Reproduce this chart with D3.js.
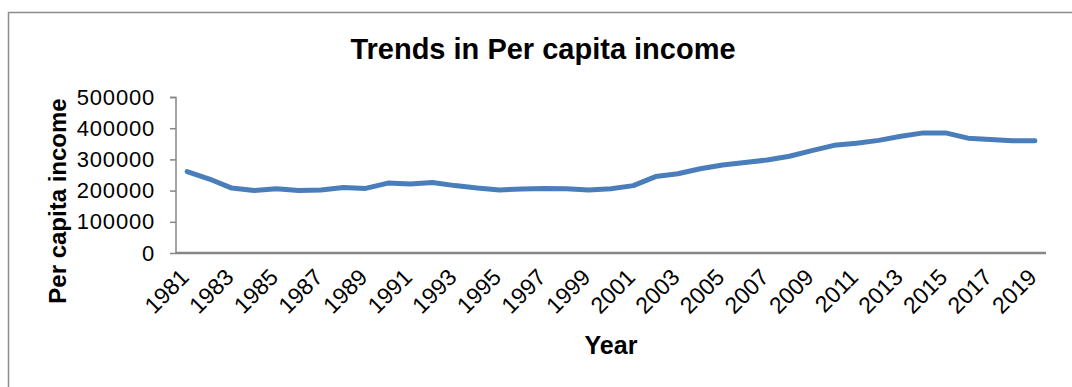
<!DOCTYPE html>
<html>
<head>
<meta charset="utf-8">
<script src="https://cdn.jsdelivr.net/npm/d3@7"></script>
<style>
  body { margin: 0; background: #fff; }
  text { font-family: "Liberation Sans", Arial, sans-serif; fill: #000; }
</style>
</head>
<body>
<div id="chart"></div>
<script>
// data
const years = [1981, 1982, 1983, 1984, 1985, 1986, 1987, 1988, 1989, 1990,
  1991, 1992, 1993, 1994, 1995, 1996, 1997, 1998, 1999, 2000,
  2001, 2002, 2003, 2004, 2005, 2006, 2007, 2008, 2009, 2010,
  2011, 2012, 2013, 2014, 2015, 2016, 2017, 2018, 2019];
const income = [261000, 237000, 208000, 200000, 206000, 200000, 202000, 210000, 207000, 224000,
  221000, 226000, 216000, 208000, 202000, 205000, 207000, 206000, 202000, 206000,
  216000, 245000, 254000, 270000, 282000, 290000, 298000, 310000, 328000, 345000,
  352000, 361000, 374000, 385000, 385000, 368000, 364000, 360000, 360000];
const yTicks = [0, 100000, 200000, 300000, 400000, 500000];
const xLabels = years.filter((d, i) => i % 2 === 0);

const W = 1072, H = 387;
const margin = { top: 97, right: 26, bottom: 134, left: 176 };
const width = W - margin.left - margin.right,
  height = H - margin.top - margin.bottom;

const svg = d3.select("#chart").append("svg")
  .attr("width", W)
  .attr("height", H);

// outer frame (runs off the right and bottom)
svg.append("rect")
  .attr("x", 8.5).attr("y", 12.5)
  .attr("width", W + 20).attr("height", H + 20)
  .attr("fill", "none")
  .attr("stroke", "#8c8c8c")
  .attr("stroke-width", 1.5);

const g = svg.append("g")
  .attr("transform", "translate(" + margin.left + "," + margin.top + ")");

const x = d3.scalePoint().domain(years).range([0, width]).padding(0.5);
const y = d3.scaleLinear().domain([0, 500000]).range([height, 0]);

// y axis
const yAxis = g.append("g")
  .attr("class", "y-axis")
  .call(d3.axisLeft(y).tickValues(yTicks).tickSize(6).tickPadding(15).tickFormat(d3.format("d")));
yAxis.selectAll("path, line").attr("stroke", "#868686").attr("stroke-width", 1.5);
yAxis.select(".domain").attr("d", "M-6,0.5H0V" + height);
yAxis.selectAll("text")
  .style("font-size", "22px")
  .style("letter-spacing", "0.8px")
  .attr("fill", "#000");

// x axis
const xAxis = g.append("g")
  .attr("class", "x-axis")
  .attr("transform", "translate(0," + height + ")")
  .call(d3.axisBottom(x).tickValues(xLabels).tickSize(0).tickPadding(0));
xAxis.select(".domain")
  .attr("d", "M0,0H" + width)
  .attr("stroke", "#868686").attr("stroke-width", 2.5);
xAxis.selectAll("text")
  .style("font-size", "23px")
  .attr("fill", "#000")
  .attr("text-anchor", "end")
  .attr("transform", "translate(-3,20) rotate(-45)")
  .attr("dy", "0.35em");

// line
const line = d3.line()
  .x((d, i) => x(years[i]))
  .y(d => y(d));

g.append("path")
  .datum(income)
  .attr("fill", "none")
  .attr("stroke", "#4a7ebb")
  .attr("stroke-width", 5)
  .attr("stroke-linejoin", "round")
  .attr("stroke-linecap", "round")
  .attr("d", line);

// title and axis labels
svg.append("text")
  .attr("x", 543).attr("y", 59)
  .attr("text-anchor", "middle")
  .style("font-size", "29px")
  .style("font-weight", "bold")
  .text("Trends in Per capita income");

svg.append("text")
  .attr("x", margin.left + width / 2).attr("y", 354)
  .attr("text-anchor", "middle")
  .style("font-size", "25px")
  .style("font-weight", "bold")
  .text("Year");

svg.append("text")
  .attr("transform", "translate(66,201) rotate(-90)")
  .attr("text-anchor", "middle")
  .style("font-size", "24px")
  .style("font-weight", "bold")
  .text("Per capita income");
</script>
</body>
</html>
